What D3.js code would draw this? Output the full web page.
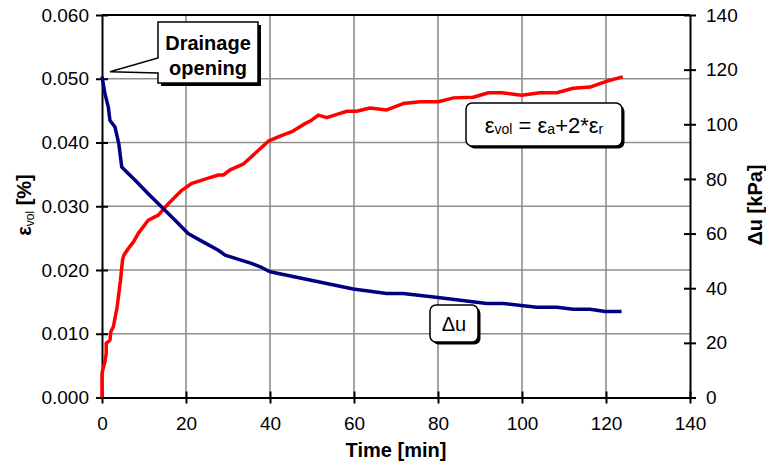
<!DOCTYPE html>
<html>
<head>
<meta charset="utf-8">
<script src="https://cdn.jsdelivr.net/npm/d3@7"></script>
<style>
  html, body { margin: 0; padding: 0; background: #fff; }
  svg { display: block; font-family: Arial, "Liberation Sans", sans-serif; }
</style>
</head>
<body>
<svg id="chart" width="766" height="464"></svg>
<script>
// Volumetric strain after drainage opening (left axis, %)
const epsTime = [0, 0, 0.3, 0.7, 1.0, 1.0, 1.9, 2.1, 2.7, 3.6, 4.4, 4.9, 5.2, 6.3, 7.5, 8.6, 11, 13.4, 15.8, 19, 21.4, 25.3, 27.7, 28.9, 30.5, 33.6, 36.8, 39.6, 42.4, 45.2, 47.9, 49.9, 51.5, 53.5, 56.3, 58.3, 60.6, 63.8, 67.8, 71.7, 75.7, 80.1, 83.7, 88.4, 92, 95.2, 99.9, 104.3, 108.3, 112.2, 116.2, 120.1, 124];
const epsVol = [0, 0.0038, 0.0046, 0.0056, 0.0069, 0.0085, 0.0090, 0.0103, 0.0111, 0.0142, 0.0184, 0.0216, 0.0223, 0.0234, 0.0244, 0.0257, 0.0278, 0.0286, 0.0304, 0.0325, 0.0336, 0.0344, 0.0349, 0.0349, 0.0357, 0.0366, 0.0385, 0.0402, 0.0410, 0.0417, 0.0428, 0.0435, 0.0443, 0.0439, 0.0445, 0.0449, 0.0449, 0.0454, 0.0451, 0.0461, 0.0464, 0.0464, 0.0470, 0.0471, 0.0478, 0.0478, 0.0474, 0.0478, 0.0478, 0.0485, 0.0487, 0.0496, 0.0503];

// Excess pore pressure dissipation (right axis, kPa)
const duTime = [0, 0.7, 1.5, 1.9, 3.1, 4.0, 4.7, 6.3, 7.9, 11, 14.2, 17.4, 20.5, 23.3, 27.7, 29.3, 35.2, 38, 40, 53.5, 59.8, 67.8, 71.7, 80, 91.6, 95.6, 103.5, 108.3, 112.2, 116.2, 119.8, 123.7];
const duVal = [117.5, 111.2, 106.3, 101.4, 99, 92.9, 84.4, 81.9, 79.5, 74.6, 69.7, 64.9, 60, 57.6, 53.9, 52.1, 49.3, 47.6, 46, 41.7, 39.7, 38.1, 38.1, 36.6, 34.4, 34.4, 33, 33, 32.3, 32.3, 31.5, 31.5];

// Tick values
const xTicks = [0, 20, 40, 60, 80, 100, 120, 140];
const yLeftTicks = [0, 0.01, 0.02, 0.03, 0.04, 0.05, 0.06];
const yRightTicks = [0, 20, 40, 60, 80, 100, 120, 140];

const svg = d3.select("#chart");
const plotLeft = 102, plotRight = 690, plotTop = 15, plotBottom = 397.5;

const x = d3.scaleLinear().domain([0, 140]).range([plotLeft, plotRight]);
const yL = d3.scaleLinear().domain([0, 0.06]).range([plotBottom, plotTop]);
const yR = d3.scaleLinear().domain([0, 140]).range([plotBottom, plotTop]);

const grid = svg.append("g").attr("stroke", "#8e8e8e").attr("stroke-width", 1.6);
grid.selectAll("line.v").data(xTicks.filter(d => d > 0 && d < 140)).join("line")
  .attr("class", "v")
  .attr("x1", d => x(d)).attr("x2", d => x(d)).attr("y1", plotTop).attr("y2", plotBottom);
grid.selectAll("line.h").data(yLeftTicks.filter(d => d > 0 && d < 0.06)).join("line")
  .attr("class", "h")
  .attr("x1", plotLeft).attr("x2", plotRight).attr("y1", d => yL(d)).attr("y2", d => yL(d));

// frame top edge
svg.append("line").attr("x1", plotLeft).attr("x2", plotRight).attr("y1", plotTop).attr("y2", plotTop)
  .attr("stroke", "#000").attr("stroke-width", 2);

function styleAxis(g) {
  g.selectAll(".domain").attr("stroke", "#000").attr("stroke-width", 2);
  g.selectAll(".tick line").attr("stroke", "#000").attr("stroke-width", 2);
  g.selectAll(".tick text").attr("font-size", 19).attr("fill", "#000")
    .attr("font-family", "Arial, 'Liberation Sans', sans-serif");
}

const xAxis = svg.append("g").attr("transform", `translate(0,${plotBottom})`)
  .call(d3.axisBottom(x).tickValues(xTicks).tickSizeOuter(0).tickSizeInner(6).tickPadding(13));
styleAxis(xAxis);
xAxis.selectAll(".tick line").attr("y1", -6);

const yAxisL = svg.append("g").attr("transform", `translate(${plotLeft},0)`)
  .call(d3.axisLeft(yL).tickValues(yLeftTicks).tickFormat(d3.format(".3f")).tickSizeOuter(0).tickSizeInner(6).tickPadding(7));
styleAxis(yAxisL);
yAxisL.selectAll(".tick line").attr("x1", 6);

const yAxisR = svg.append("g").attr("transform", `translate(${plotRight},0)`)
  .call(d3.axisRight(yR).tickValues(yRightTicks).tickSizeOuter(0).tickSizeInner(6).tickPadding(10));
styleAxis(yAxisR);
yAxisR.selectAll(".tick line").attr("x1", -6);

// curves
const epsLine = d3.line().x(d => x(d[0])).y(d => yL(d[1]));
const duLine = d3.line().x(d => x(d[0])).y(d => yR(d[1]));

svg.append("path").datum(d3.zip(epsTime, epsVol)).attr("d", epsLine)
  .attr("fill", "none").attr("stroke", "#ff0000").attr("stroke-width", 3.5)
  .attr("stroke-linejoin", "round");
svg.append("path").datum(d3.zip(duTime, duVal)).attr("d", duLine)
  .attr("fill", "none").attr("stroke", "#000080").attr("stroke-width", 3.5)
  .attr("stroke-linejoin", "round");

// axis titles
svg.append("text").attr("x", 396).attr("y", 457).attr("text-anchor", "middle")
  .attr("font-size", 20).attr("font-weight", "bold").text("Time [min]");

const lt = svg.append("text").attr("transform", "translate(31,205) rotate(-90)")
  .attr("text-anchor", "middle").attr("font-size", 20).attr("font-weight", "bold");
lt.append("tspan").text("ε");
lt.append("tspan").attr("font-size", 12).attr("font-weight", "normal").attr("dy", 3).text("vol");
lt.append("tspan").attr("dy", -3).text(" [%]");

svg.append("text").attr("transform", "translate(762,205) rotate(-90)")
  .attr("text-anchor", "middle").attr("font-size", 20).attr("font-weight", "bold").text("Δu [kPa]");

// callout: drainage opening
const tip = [x(0) + 8, yL(0.05) - 7];
svg.append("rect").attr("x", 161).attr("y", 25).attr("width", 100).attr("height", 61).attr("fill", "#000");
svg.append("path")
  .attr("d", `M158,22 H258 V83 H158 V73 L${tip[0]},${tip[1]} L158,58 Z`)
  .attr("fill", "#fff").attr("stroke", "#000").attr("stroke-width", 1.5);
svg.append("text").attr("x", 208).attr("y", 50).attr("text-anchor", "middle")
  .attr("font-size", 20).attr("font-weight", "bold").text("Drainage");
svg.append("text").attr("x", 208).attr("y", 75).attr("text-anchor", "middle")
  .attr("font-size", 20).attr("font-weight", "bold").text("opening");

// label boxes
function labelBox(x0, y0, w, h) {
  svg.append("rect").attr("x", x0 + 2.5).attr("y", y0 + 2.5).attr("width", w).attr("height", h)
    .attr("rx", 6).attr("fill", "#000");
  svg.append("rect").attr("x", x0).attr("y", y0).attr("width", w).attr("height", h)
    .attr("rx", 6).attr("fill", "#fff").attr("stroke", "#000").attr("stroke-width", 1.5);
}

labelBox(466, 103, 156, 43);
const eq = svg.append("text").attr("x", 544).attr("y", 133).attr("text-anchor", "middle").attr("font-size", 22);
eq.append("tspan").text("ε");
eq.append("tspan").attr("font-size", 14).attr("dy", 1).text("vol");
eq.append("tspan").attr("dy", -1).text(" = ε");
eq.append("tspan").attr("font-size", 14).attr("dy", 1).text("a");
eq.append("tspan").attr("dy", -1).text("+2*ε");
eq.append("tspan").attr("font-size", 14).attr("dy", 1).text("r");

labelBox(430, 305, 48, 37);
svg.append("text").attr("x", 454).attr("y", 331).attr("text-anchor", "middle")
  .attr("font-size", 20).text("Δu");
</script>
</body>
</html>
